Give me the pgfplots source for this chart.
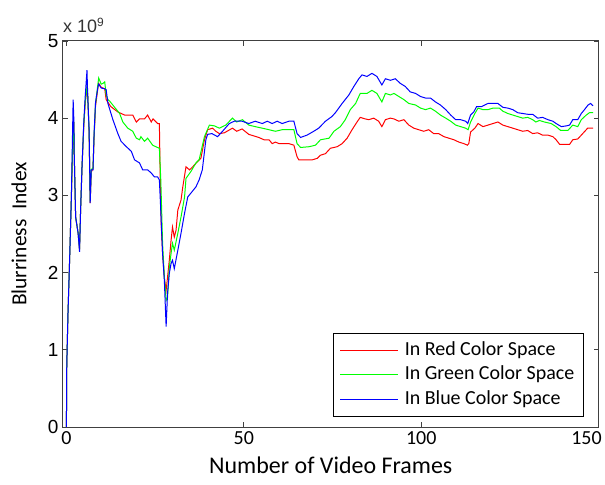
\documentclass[border=0pt]{standalone}
\usepackage{pgfplots}
\pgfplotsset{compat=1.18}
\usepackage{fontspec}
\setmainfont{Carlito}
\newfontfamily\arialfont{Liberation Sans}
\begin{document}
\begin{tikzpicture}
\begin{axis}[
  scale only axis,
  width=537pt, height=387pt,
  xmin=-1, xmax=150, ymin=0, ymax=5,
  xtick={0,50,100,150}, ytick={0,1,2,3,4,5},
  xticklabels={0,50,100,\makebox[6pt][r]{150}},
  tick align=inside,
  major tick length=5pt,
  axis line style={black!75, line width=0.9pt},
  tick style={black!75, line width=0.8pt},
  /pgf/number format/assume math mode=true,
  xticklabel style={font=\fontsize{20}{22}\selectfont, yshift=-1pt},
  yticklabel style={font=\arialfont\fontsize{19}{21}\selectfont, xshift=-1pt},
  xlabel={Number of Video Frames},
  ylabel={Blurriness\ \ Index},
  every axis x label/.style={at={(axis description cs:0.5,0)}, yshift=-38pt, anchor=center, font=\fontsize{24}{26}\selectfont},
  every axis y label/.style={at={(axis description cs:0,0.5)}, xshift=-44pt, rotate=90, anchor=center, font=\fontsize{21.5}{24}\selectfont},
  legend style={at={(rel axis cs:0.972,0.026)}, anchor=south east,
    font=\fontsize{20}{22}\selectfont, line width=0.8pt,
    nodes={inner sep=2pt, text height=14pt, text depth=4.5pt},
    row sep=2pt, column sep=4pt, inner xsep=7pt, inner ysep=6pt},
  legend cell align=left,
  legend image code/.code={\draw[#1] (0pt,0pt) -- (58pt,0pt);},
  clip mode=individual,
]
\addplot[color=red, line width=1pt] coordinates {
(0,0) (0.1,0.8) (0.45,1.48) (0.9,2.16) (1.4,2.98) (1.9,3.85) (2.1,3.95) (2.2,3.55) (2.6,2.72) (3.3,2.51) (3.7,2.3) (4.0,2.81) (4.4,3.37) (4.9,3.9) (5.3,4.2) (5.8,4.38) (6.0,4.3) (6.4,3.8) (6.7,2.9) (7.0,3.3) (7.5,3.35) (7.8,3.75) (8.2,4.15) (8.9,4.4) (9.1,4.45) (9.8,4.4) (10.8,4.38) (11.2,4.24) (12.5,4.15) (14.5,4.08) (16.4,4.04) (18.7,4.04) (19.7,3.95) (20.6,3.99) (22,3.99) (22.9,4.04) (23.9,3.95) (24.4,3.99) (25.7,3.93) (26.2,3.93) (26.4,3.33) (26.7,2.64) (27.1,2.25) (27.6,1.93) (28.1,1.77) (28.5,1.94) (29,2.16) (29.5,2.42) (29.9,2.59) (30.4,2.46) (30.9,2.55) (31.4,2.81) (32.3,2.94) (32.8,3.11) (33.7,3.37) (34.7,3.33) (35.6,3.37) (37,3.44) (37.9,3.48) (38.9,3.72) (39.8,3.85) (41.2,3.87) (42.1,3.83) (43.1,3.80) (44.5,3.81) (46.8,3.87) (48,3.83) (49.5,3.86) (51.4,3.79) (52.8,3.77) (54.2,3.75) (55.7,3.72) (57.1,3.72) (58,3.67) (58.9,3.69) (59.9,3.67) (61.3,3.67) (62.7,3.67) (64.1,3.65) (65,3.50) (65.5,3.46) (66.9,3.46) (69.3,3.46) (70.7,3.48) (71.6,3.52) (73,3.54) (74.4,3.61) (76.3,3.63) (77.7,3.67) (79.1,3.74) (80.5,3.85) (81.9,3.95) (82.8,4.01) (84.2,3.99) (85.2,3.98) (86.6,4.0) (88,3.96) (88.9,3.89) (89.9,3.98) (91.3,4.0) (92.3,3.99) (93.7,3.96) (95.1,3.98) (96.5,3.91) (97.9,3.87) (99.3,3.85) (100.7,3.83) (102.1,3.85) (103.5,3.80) (104.9,3.80) (106.4,3.76) (107.8,3.74) (109.2,3.72) (110.6,3.69) (112,3.67) (113,3.65) (113.4,3.67) (113.9,3.82) (115.1,3.87) (116,3.93) (117.4,3.89) (118.8,3.91) (120.2,3.93) (121.6,3.95) (123,3.91) (124.4,3.89) (125.8,3.87) (127.2,3.85) (128.6,3.83) (130,3.84) (131.4,3.80) (132.8,3.81) (134.2,3.78) (135.7,3.78) (137.1,3.76) (138,3.72) (139,3.66) (140.4,3.66) (141.8,3.66) (142.7,3.72) (144.1,3.73) (145.5,3.80) (146.9,3.87) (148.4,3.87)
};
\addlegendentry{In Red Color Space}
\addplot[color=green, line width=1pt] coordinates {
(0,0) (0.1,0.8) (0.45,1.48) (0.9,2.16) (1.4,2.98) (1.9,3.9) (2.1,3.95) (2.2,3.55) (2.6,2.72) (3.3,2.51) (3.7,2.3) (4.0,2.81) (4.4,3.37) (4.9,3.92) (5.3,4.22) (5.8,4.4) (6.0,4.3) (6.4,3.82) (6.7,2.92) (7.0,3.33) (7.5,3.36) (7.8,3.78) (8.2,4.18) (8.9,4.45) (9.1,4.52) (9.8,4.44) (10.3,4.45) (10.8,4.47) (11.2,4.3) (11.7,4.24) (12.2,4.22) (15,4.06) (15.9,3.95) (17.3,3.87) (18.7,3.83) (19.7,3.74) (20.6,3.72) (21,3.76) (22,3.7) (22.9,3.74) (24.3,3.65) (25.2,3.63) (26.2,3.61) (26.6,3.2) (27.1,2.38) (27.6,1.95) (28.1,1.64) (28.5,1.68) (29,2.07) (29.5,2.25) (29.9,2.38) (30.4,2.29) (31.4,2.51) (32.3,2.72) (33.3,2.98) (33.7,3.22) (35.1,3.31) (36.5,3.42) (37.4,3.46) (38.9,3.76) (40.3,3.91) (41.7,3.90) (43.1,3.87) (44.9,3.91) (46.8,4.0) (48,3.95) (49.6,3.98) (51.4,3.91) (53.2,3.89) (55.2,3.87) (57.1,3.85) (58.9,3.83) (60.8,3.85) (62.7,3.85) (64.1,3.85) (65,3.67) (66,3.62) (68.4,3.63) (70.2,3.65) (71.6,3.72) (74,3.74) (75.4,3.83) (77.2,3.89) (78.6,3.98) (80,4.11) (81.5,4.19) (82.8,4.32) (84.7,4.32) (86.1,4.36) (87.5,4.32) (88.9,4.21) (89.9,4.32) (91.3,4.30) (92.3,4.32) (93.7,4.28) (95.1,4.24) (96.5,4.19) (98.4,4.17) (99.8,4.13) (101.2,4.11) (102.6,4.13) (104,4.09) (105.4,4.04) (106.9,4.0) (108.3,3.96) (109.7,3.91) (111.1,3.89) (112.5,3.87) (113.2,3.85) (113.9,3.95) (115.1,4.06) (116,4.13) (117.4,4.11) (118.8,4.11) (120.2,4.13) (122,4.13) (123,4.09) (124.4,4.06) (125.8,4.04) (127.2,4.02) (128.6,4.0) (130,4.01) (131.4,3.98) (132.3,3.95) (133.3,3.97) (134.7,3.95) (136.6,3.93) (138,3.89) (139.3,3.84) (141.3,3.84) (142.7,3.91) (144.1,3.89) (145.1,3.98) (146.5,4.04) (147.4,4.07) (148.4,4.07)
};
\addlegendentry{In Green Color Space}
\addplot[color=blue, line width=1pt] coordinates {
(0,0) (0.1,0.8) (0.45,1.48) (0.9,2.16) (1.4,2.98) (1.9,4.24) (2.1,3.98) (2.2,3.55) (2.6,2.72) (3.3,2.51) (3.7,2.27) (4.0,2.81) (4.4,3.37) (4.9,3.95) (5.3,4.28) (5.8,4.62) (6.0,4.3) (6.4,3.85) (6.7,2.9) (7.0,3.33) (7.5,3.33) (7.8,3.8) (8.2,4.2) (8.9,4.41) (9.1,4.44) (9.8,4.39) (10.8,4.38) (11.2,4.37) (11.7,4.19) (13.1,3.98) (14.5,3.80) (15.4,3.70) (16.9,3.63) (18.3,3.57) (19.2,3.46) (20.6,3.42) (21.5,3.33) (22.9,3.33) (23.9,3.29) (24.8,3.24) (25.7,3.24) (26.2,3.2) (26.5,2.9) (27.1,2.25) (27.6,1.9) (28.1,1.3) (28.5,1.73) (29,1.99) (29.5,2.12) (29.9,2.16) (30.4,2.05) (31.4,2.29) (32.3,2.51) (33.3,2.77) (34.2,2.98) (35.1,3.03) (36.5,3.11) (37.4,3.2) (38.3,3.33) (39.3,3.72) (39.8,3.79) (41,3.8) (42.6,3.76) (44,3.83) (45.9,3.93) (47.3,3.96) (49.5,3.96) (51.4,3.93) (53.2,3.96) (55.2,3.93) (56.6,3.96) (58,3.93) (59.4,3.96) (60.8,3.93) (62.7,3.96) (64.1,3.96) (65,3.80) (66,3.75) (67.8,3.78) (69.7,3.83) (71.1,3.87) (73,3.96) (74.8,4.02) (75.8,4.07) (77.7,4.19) (79.6,4.30) (81,4.41) (82.4,4.51) (83.3,4.56) (84.7,4.54) (86.1,4.58) (87.5,4.54) (88.9,4.43) (89.9,4.51) (91.3,4.49) (92.7,4.51) (94.1,4.45) (95.5,4.41) (96.9,4.34) (98.4,4.32) (99.8,4.28) (101.2,4.26) (102.6,4.26) (104,4.21) (105.4,4.17) (106.9,4.11) (108.3,4.04) (109.7,3.98) (111.1,3.98) (112.5,3.96) (113.1,3.93) (113.9,4.04) (114.8,4.08) (115.6,4.15) (117,4.15) (118.8,4.19) (120.2,4.19) (121.6,4.19) (123,4.14) (124.4,4.13) (125.8,4.11) (127.2,4.07) (128.6,4.06) (130,4.05) (131.4,4.05) (132.8,4.0) (134.2,4.01) (135.7,3.98) (137.1,3.96) (138,3.93) (139.5,3.89) (140.9,3.90) (141.8,3.91) (142.7,3.98) (144.1,3.98) (145.1,4.06) (146,4.11) (147,4.17) (147.7,4.19) (148.4,4.16)
};
\addlegendentry{In Blue Color Space}
\end{axis}
\node[anchor=south west, inner sep=0pt, font=\arialfont\fontsize{18}{20}\selectfont, text=black!80] at (0pt,395pt) {x 10\raisebox{0.65ex}{\fontsize{12}{13}\selectfont 9}};
\path (-63pt,-58pt) rectangle (542pt,428pt);
\end{tikzpicture}
\end{document}
